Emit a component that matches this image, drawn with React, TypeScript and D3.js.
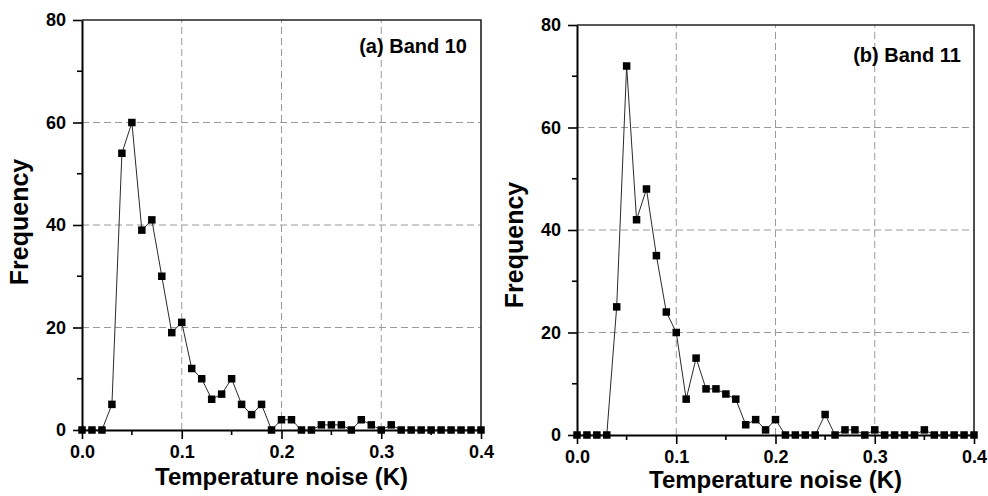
import { useEffect, useRef } from "react"
import * as d3 from "d3"

// bin centres (K)
const temps = [
    0.00, 0.01, 0.02, 0.03, 0.04, 0.05, 0.06, 0.07, 0.08, 0.09,
    0.10, 0.11, 0.12, 0.13, 0.14, 0.15, 0.16, 0.17, 0.18, 0.19,
    0.20, 0.21, 0.22, 0.23, 0.24, 0.25, 0.26, 0.27, 0.28, 0.29,
    0.30, 0.31, 0.32, 0.33, 0.34, 0.35, 0.36, 0.37, 0.38, 0.39, 0.40,
]

const band10 = [
    0, 0, 0, 5, 54, 60, 39, 41, 30, 19,
    21, 12, 10, 6, 7, 10, 5, 3, 5, 0,
    2, 2, 0, 0, 1, 1, 1, 0, 2, 1,
    0, 1, 0, 0, 0, 0, 0, 0, 0, 0, 0,
]

const band11 = [
    0, 0, 0, 0, 25, 72, 42, 48, 35, 24,
    20, 7, 15, 9, 9, 8, 7, 2, 3, 1,
    3, 0, 0, 0, 0, 4, 0, 1, 1, 0,
    1, 0, 0, 0, 0, 1, 0, 0, 0, 0, 0,
]

const xTicks = [0, 0.1, 0.2, 0.3, 0.4]
const xMinor = [0.05, 0.15, 0.25, 0.35]
const yTicks = [0, 20, 40, 60, 80]
const yMinor = [10, 30, 50, 70]

const FONT = "'Liberation Sans', Arial, Helvetica, sans-serif"

const panels = [
    { values: band10, label: "(a) Band 10", left: 82, right: 481, top: 20, bottom: 430, labelX: 467, labelY: 53, yTitleX: 28, yTitleY: 222, xTitleY: 485 },
    { values: band11, label: "(b) Band 11", left: 577, right: 974, top: 25, bottom: 435, labelX: 961, labelY: 62, yTitleX: 523, yTitleY: 245, xTitleY: 488 },
]

export default function App() {
    const ref = useRef<SVGSVGElement>(null)

    useEffect(() => {
        const svg = d3.select(ref.current)
        svg.selectAll("*").remove()

        panels.forEach((p) => {
            const x = d3.scaleLinear().domain([0, 0.4]).range([p.left, p.right])
            const y = d3.scaleLinear().domain([0, 80]).range([p.bottom, p.top])
            const g = svg.append("g")

            // grid
            g.selectAll(".vgrid")
                .data(xTicks.slice(1, -1))
                .join("line")
                .attr("x1", (d) => x(d)).attr("x2", (d) => x(d))
                .attr("y1", p.bottom).attr("y2", p.top)
                .attr("stroke", "#9a9a9a")
                .attr("stroke-dasharray", "7,4")
                .attr("stroke-width", 1)

            g.selectAll(".hgrid")
                .data(yTicks.slice(1, -1))
                .join("line")
                .attr("x1", p.left).attr("x2", p.right)
                .attr("y1", (d) => y(d)).attr("y2", (d) => y(d))
                .attr("stroke", "#9a9a9a")
                .attr("stroke-dasharray", "7,4")
                .attr("stroke-width", 1)

            // frame top / right
            g.append("path")
                .attr("d", `M${p.left},${p.top}H${p.right}V${p.bottom}`)
                .attr("fill", "none")
                .attr("stroke", "#222")
                .attr("stroke-width", 1.6)

            // axes
            const xAxis = d3.axisBottom(x)
                .tickValues(xTicks)
                .tickFormat(d3.format(".1f"))
                .tickSize(9)
                .tickSizeOuter(0)
                .tickPadding(6)

            const xg = g.append("g")
                .attr("transform", `translate(0, ${p.bottom})`)
                .call(xAxis)
            xg.select(".domain").attr("stroke", "#000").attr("stroke-width", 2)
            xg.selectAll(".tick line").attr("stroke", "#000").attr("stroke-width", 1.6)
            xg.selectAll("text")
                .attr("fill", "#000")
                .style("font-family", FONT)
                .style("font-size", "18px")
                .style("font-weight", "bold")

            g.selectAll(".xminor")
                .data(xMinor)
                .join("line")
                .attr("x1", (d) => x(d)).attr("x2", (d) => x(d))
                .attr("y1", p.bottom).attr("y2", p.bottom + 5)
                .attr("stroke", "#000")
                .attr("stroke-width", 1.6)

            const yAxis = d3.axisLeft(y)
                .tickValues(yTicks)
                .tickFormat(d3.format("d"))
                .tickSize(9)
                .tickSizeOuter(0)
                .tickPadding(7)

            const yg = g.append("g")
                .attr("transform", `translate(${p.left}, 0)`)
                .call(yAxis)
            yg.select(".domain").attr("stroke", "#000").attr("stroke-width", 2)
            yg.selectAll(".tick line").attr("stroke", "#000").attr("stroke-width", 1.6)
            yg.selectAll("text")
                .attr("fill", "#000")
                .style("font-family", FONT)
                .style("font-size", "18px")
                .style("font-weight", "bold")

            g.selectAll(".yminor")
                .data(yMinor)
                .join("line")
                .attr("x1", p.left - 5).attr("x2", p.left)
                .attr("y1", (d) => y(d)).attr("y2", (d) => y(d))
                .attr("stroke", "#000")
                .attr("stroke-width", 1.6)

            // series
            const line = d3.line<number>()
                .x((_, i) => x(temps[i]))
                .y((d) => y(d))

            g.append("path")
                .datum(p.values)
                .attr("d", line)
                .attr("fill", "none")
                .attr("stroke", "#2a2a2a")
                .attr("stroke-width", 1)

            const s = 7.5
            g.selectAll(".pt")
                .data(p.values)
                .join("rect")
                .attr("x", (_, i) => x(temps[i]) - s / 2)
                .attr("y", (d) => y(d) - s / 2)
                .attr("width", s)
                .attr("height", s)
                .attr("fill", "#000")

            // titles
            g.append("text")
                .attr("x", (p.left + p.right) / 2)
                .attr("y", p.xTitleY)
                .attr("text-anchor", "middle")
                .style("font-family", FONT)
                .style("font-size", "24px")
                .style("font-weight", "bold")
                .text("Temperature noise (K)")

            g.append("text")
                .attr("transform", `translate(${p.yTitleX}, ${p.yTitleY}) rotate(-90)`)
                .attr("text-anchor", "middle")
                .style("font-family", FONT)
                .style("font-size", "25px")
                .style("font-weight", "bold")
                .text("Frequency")

            g.append("text")
                .attr("x", p.labelX)
                .attr("y", p.labelY)
                .attr("text-anchor", "end")
                .style("font-family", FONT)
                .style("font-size", "20px")
                .style("font-weight", "bold")
                .text(p.label)
        })
    }, [])

    return (
        <svg ref={ref} width={988} height={496}
            style={{ position: "absolute", left: 0, top: 0, background: "#fff" }} />
    )
}
